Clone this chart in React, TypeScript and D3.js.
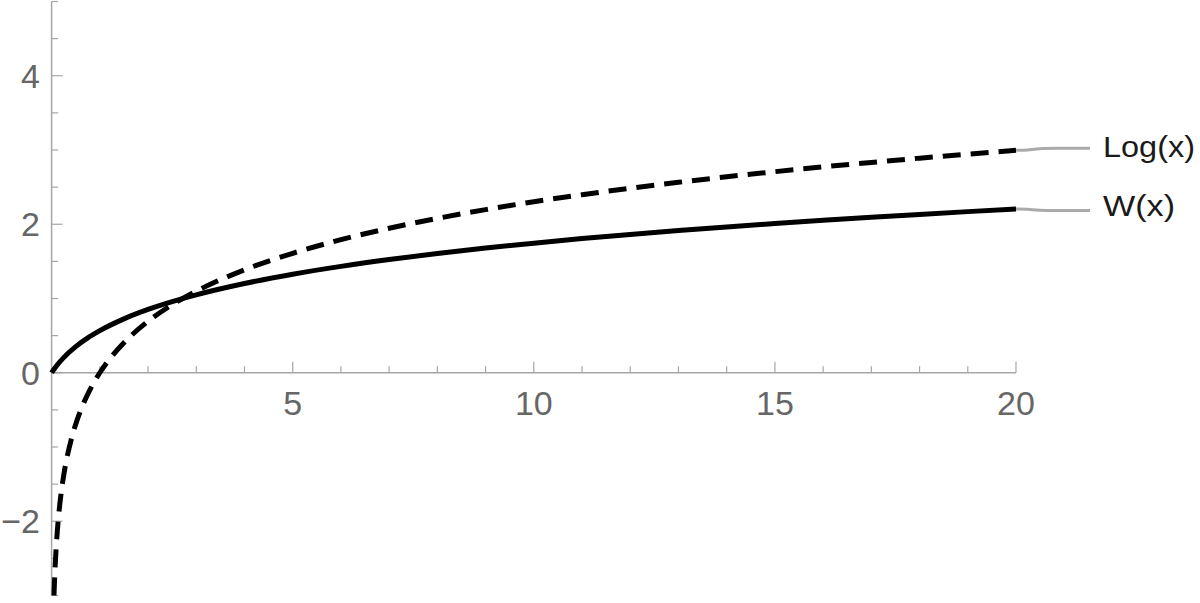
import React from "react";
import * as d3 from "d3";

const wX = [0, 0.02, 0.05, 0.1, 0.25, 0.5, 0.75, 1, 1.5, 2, 2.5, 3, 4, 5, 6, 7, 8, 9, 10, 11, 12, 13, 14, 15, 16, 17, 18, 19, 20];
const wY = [0, 0.0196, 0.0477, 0.0913, 0.2039, 0.3517, 0.4696, 0.5671, 0.7259, 0.8526, 0.9585, 1.0499, 1.2022, 1.3267, 1.4324, 1.5243, 1.6058, 1.6788, 1.7455, 1.807, 1.8628, 1.915, 1.964, 2.01, 2.0533, 2.094, 2.1328, 2.17, 2.2053];

const logX = [0.0498, 0.06, 0.07, 0.08, 0.1, 0.12, 0.15, 0.2, 0.25, 0.3, 0.4, 0.5, 0.6, 0.7, 0.8, 1, 1.2, 1.5, 2, 2.5, 3, 4, 5, 6, 7, 8, 9, 10, 11, 12, 13, 14, 15, 16, 17, 18, 19, 20];
const logY = [-3.0, -2.813, -2.659, -2.526, -2.303, -2.12, -1.897, -1.609, -1.386, -1.204, -0.916, -0.693, -0.511, -0.357, -0.223, 0, 0.182, 0.405, 0.693, 0.916, 1.099, 1.386, 1.609, 1.792, 1.946, 2.079, 2.197, 2.303, 2.398, 2.485, 2.565, 2.639, 2.708, 2.773, 2.833, 2.89, 2.944, 2.996];

const xMajorTicks = [5, 10, 15, 20];
const xMinorTicks = d3.range(1, 21);
const yMajorTicks = [-2, 0, 2, 4];
const yMinorTicks = d3.range(-3, 5.01, 0.5);
const seriesLabels = ["Log(x)", "W(x)"];

export default function App() {
  const width = 1200;
  const height = 603;
  const x = d3.scaleLinear().domain([0, 20]).range([51.6, 1016]);
  const y = d3.scaleLinear().domain([-3, 5]).range([595.5, 1.5]);

  const line = d3
    .line<[number, number]>()
    .x((d) => x(d[0]))
    .y((d) => y(d[1]))
    .curve(d3.curveMonotoneX);

  const wData: [number, number][] = wX.map((v, i) => [v, wY[i]]);
  const logData: [number, number][] = logX.map((v, i) => [v, logY[i]]);

  const axisColor = "#a6a6a6";
  const labelColor = "#666666";
  const font = "'Liberation Sans', Arial, Helvetica, sans-serif";

  const leader = d3
    .line<[number, number]>()
    .x((d) => d[0])
    .y((d) => d[1])
    .curve(d3.curveBasis);

  const logEnd = logData[logData.length - 1];
  const wEnd = wData[wData.length - 1];
  const ends = [
    { p: logEnd, ly: 148.3, ty: 157, tl: 92, label: seriesLabels[0] },
    { p: wEnd, ly: 210.5, ty: 216, tl: 72, label: seriesLabels[1] },
  ];

  const y0 = y(0);
  const x0 = x(0);

  return (
    <svg
      width={width}
      height={height}
      style={{ position: "absolute", left: 0, top: 0, background: "#fff" }}
    >
      <defs>
        <clipPath id="plotclip">
          <rect x={x0 - 5} y={y(5)} width={x(20) - x0 + 10} height={y(-3) - y(5) + 2} />
        </clipPath>
      </defs>
      {/* x axis */}
      <line x1={x0} x2={x(20)} y1={y0} y2={y0} stroke={axisColor} strokeWidth={1.5} />
      {xMinorTicks.map((t) => {
        const major = xMajorTicks.includes(t);
        return (
          <line
            key={"xt" + t}
            x1={x(t)}
            x2={x(t)}
            y1={y0}
            y2={y0 - (major ? 11 : 6.5)}
            stroke={axisColor}
            strokeWidth={1.2}
          />
        );
      })}
      {xMajorTicks.map((t) => (
        <text
          key={"xl" + t}
          x={x(t)}
          y={y0 + 42}
          textAnchor="middle"
          fontFamily={font}
          fontSize={34}
          fill={labelColor}
        >
          {t}
        </text>
      ))}
      {/* y axis */}
      <line x1={x0} x2={x0} y1={y(-3)} y2={y(5)} stroke={axisColor} strokeWidth={1.5} />
      {yMinorTicks.map((t) => {
        const major = yMajorTicks.includes(t) || t === 0;
        return (
          <line
            key={"yt" + t}
            x1={x0}
            x2={x0 + (major ? 11 : 6.5)}
            y1={y(t)}
            y2={y(t)}
            stroke={axisColor}
            strokeWidth={1.2}
          />
        );
      })}
      {[...yMajorTicks].map((t) => (
        <text
          key={"yl" + t}
          x={40}
          y={y(t)}
          dy="0.36em"
          textAnchor="end"
          fontFamily={font}
          fontSize={34}
          fill={labelColor}
        >
          {t < 0 ? "\u2212" + Math.abs(t) : t}
        </text>
      ))}
      {/* curves */}
      <g clipPath="url(#plotclip)">
        <path d={line(logData) || ""} fill="none" stroke="#000" strokeWidth={5} strokeDasharray="18 10" />
        <path d={line(wData) || ""} fill="none" stroke="#000" strokeWidth={5} />
      </g>
      {/* leader lines and labels */}
      {ends.map((e) => {
        const sx = x(e.p[0]);
        const sy = y(e.p[1]);
        const pts: [number, number][] = [
          [sx, sy],
          [sx + 12, sy],
          [sx + 22, e.ly],
          [sx + 40, e.ly],
          [1090, e.ly],
        ];
        return (
          <g key={e.label}>
            <path d={leader(pts) || ""} fill="none" stroke="#aaaaaa" strokeWidth={3} />
            <text
              x={1103}
              y={e.ty}
              fontFamily={font}
              fontSize={30}
              fill="#1a1a1a"
              textLength={e.tl}
              lengthAdjust="spacingAndGlyphs"
            >
              {e.label}
            </text>
          </g>
        );
      })}
    </svg>
  );
}
